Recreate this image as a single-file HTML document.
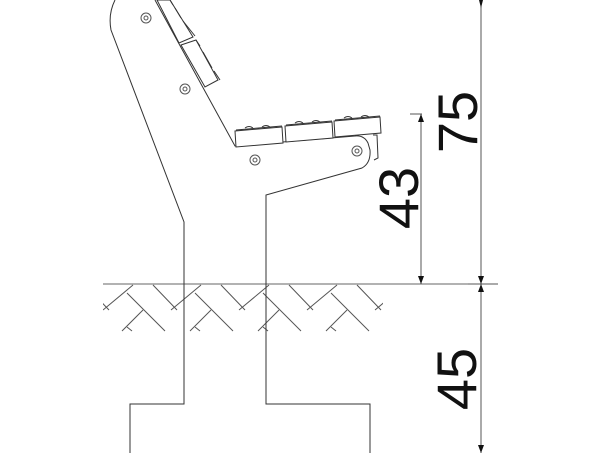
<!DOCTYPE html>
<html><head><meta charset="utf-8"><style>
html,body{margin:0;padding:0;background:#fff;}
svg{display:block;}
</style></head><body>
<svg width="603" height="453" viewBox="0 0 603 453" xmlns="http://www.w3.org/2000/svg">
<defs>
<clipPath id="hc"><rect x="103" y="284" width="280" height="48"/></clipPath>
<g id="per" stroke="#555" stroke-width="1" fill="none">
<line x1="103" y1="310" x2="133" y2="285"/>
<line x1="127" y1="293" x2="165" y2="331"/>
<line x1="122" y1="331" x2="143" y2="310"/>
<line x1="153" y1="285" x2="177" y2="310"/>
<line x1="127" y1="327" x2="132" y2="331"/>
</g>
</defs>
<g fill="none" stroke="#333" stroke-width="1">
<!-- hatch -->
<g clip-path="url(#hc)">
<use href="#per" x="-68"/><use href="#per"/><use href="#per" x="68"/><use href="#per" x="136"/><use href="#per" x="204"/><use href="#per" x="272"/>
</g>
<!-- ground -->
<line x1="103" y1="284" x2="498" y2="284" stroke="#666"/>
<!-- bench outline -->
<path d="M115,0 Q108,14 111,30 L184,222 L184,404 L130,404 L130,453"/>
<path d="M370,453 L370,404 L266,404 L266,195 L362,168 Q371,163 370,150 L368,143 Q364,135 355,136 L235,146 L155,0"/>
<!-- back slats -->
<polygon points="157,0 170,0 193,37 179,43" fill="#fff"/>
<polygon points="181,45 196,40 218,80 205,87" fill="#fff"/>
<path d="M170,0 L173,5 M175,8 L181,18 M183,21 L195,36"/>
<path d="M196,40 L200,46 M203,52 L212,68 M214,71 L220,80"/>
<!-- seat slats -->
<polygon points="235,131 282,127 283,143 236,147" fill="#fff"/>
<polygon points="285,126 332,122 333,138 286,142" fill="#fff"/>
<polygon points="334,121 380,117 381,133 335,137" fill="#fff"/>
<path d="M236,130 L282,126 M286,125 L332,121 M335,120 L380,116"/>
<path d="M245,128 q4,-3 8,0 M262,127 q4,-3 8,0 M295,123 q4,-3 8,0 M312,122 q4,-3 8,0 M344,118 q4,-3 8,0 M361,117 q4,-3 8,0"/>
<!-- small tab -->
<path d="M373,135 L377,135 L378,158 L374,160"/>
<!-- bolts -->
<g stroke="#555">
<circle cx="146" cy="18" r="5"/><circle cx="146" cy="18" r="2"/>
<circle cx="185" cy="89" r="5"/><circle cx="185" cy="89" r="2"/>
<circle cx="255" cy="160" r="5"/><circle cx="255" cy="160" r="2"/>
<circle cx="357" cy="151" r="5"/><circle cx="357" cy="151" r="2"/>
</g>
<!-- dimensions -->
<g stroke="#555">
<line x1="481" y1="0" x2="481" y2="453"/>
<line x1="421" y1="114" x2="421" y2="284"/>
<line x1="410" y1="114" x2="422" y2="114"/>
<line x1="468" y1="284" x2="498" y2="284"/>
</g>
</g>
<g fill="#111">
<polygon points="479,0 483,0 481,8"/>
<polygon points="478,276 484,276 481,284"/>
<polygon points="478,292 484,292 481,284"/>
<polygon points="478,445 484,445 481,453"/>
<polygon points="418,122 424,122 421,114"/>
<polygon points="418,276 424,276 421,284"/>
</g>
<g font-family="'Liberation Sans',sans-serif" font-size="56" fill="#111" text-anchor="middle">
<text transform="translate(477,122) rotate(-90)">75</text>
<text transform="translate(418,198) rotate(-90)">43</text>
<text transform="translate(476,379) rotate(-90)">45</text>
</g>
</svg>
</body></html>
